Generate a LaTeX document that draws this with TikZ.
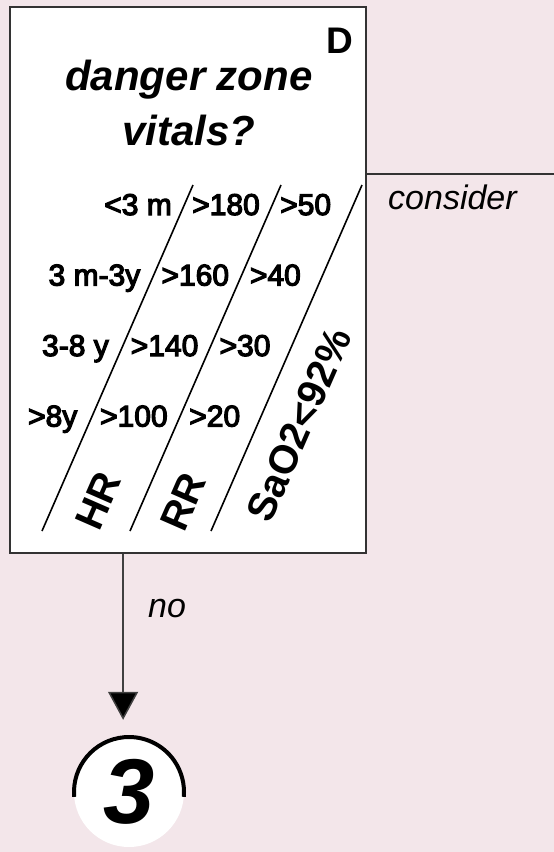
\documentclass[tikz,border=0pt]{standalone}
\usepackage{fontspec}
\setmainfont{Liberation Sans}
\newfontfamily\cellfont[FakeBold=4]{Liberation Sans}
\usetikzlibrary{positioning, arrows.meta, calc}
\definecolor{bgpink}{HTML}{F3E6EA}

\begin{document}
\begin{tikzpicture}[
                x=1pt, y=-1pt,
                box/.style={draw=black!80, line width=1.8pt, fill=white, minimum width=356pt, minimum height=546pt, inner sep=0pt},
                title/.style={font=\fontsize{42}{55}\selectfont\bfseries\itshape, align=center, inner sep=0pt},
                corner/.style={font=\fontsize{37}{37}\selectfont\bfseries, inner sep=0pt},
                cell/.style={font=\fontsize{30}{30}\cellfont, inner sep=0pt},
                vital/.style={font=\fontsize{40}{40}\selectfont\bfseries, rotate=66.4, inner sep=0pt},
                lbl/.style={font=\fontsize{34}{34}\selectfont\itshape, inner sep=0pt},
                div/.style={line width=1.6pt},
                arr/.style={-{Triangle[length=28pt, width=30pt, fill=black]}, line width=1.5pt, draw=black!75},
                exit/.style={circle, fill=white, minimum size=110pt, inner sep=0pt, font=\fontsize{92}{92}\selectfont\bfseries\itshape},
            ]

            % Background:
            \fill[bgpink] (0,0) rectangle (554,852);
            \useasboundingbox (0,0) rectangle (554,852);

            % Main box with question:
            \node[box] (vit) at (188,280) {};
            \node[corner, anchor=base] (dlab) at (340,53) {D};
            \node[title, anchor=base] (ttl) at (189,145) {danger zone\\vitals?};

            % Age rows with HR and RR limits:
            \foreach \age/\hr/\rr [count=\i from 0] in {{<3 m}/{>180}/{>50}, {3 m-3y}/{>160}/{>40}, {3-8 y}/{>140}/{>30}, {>8y}/{>100}/{>20}} {
                \node[cell, anchor=base east] (age\i) at (172-31.5*\i, 215+70.5*\i) {\age};
                \node[cell, anchor=base west] (hr\i)  at (192-30.7*\i, 215+70.5*\i) {\hr};
                \node[cell, anchor=base west] (rr\i)  at (280-30.3*\i, 215+70.5*\i) {\rr};
            }

            % Slanted dividers and column heads:
            \foreach \xb in {42,130,211}
                \draw[div] (\xb,531) -- ++(151,-346);
            \node[vital] (hrh) at (98,501) {HR};
            \node[vital] (rrh) at (183,502) {RR};
            \node[vital] (sat) at (299,425) {SaO2<92\%};

            % Branch to the right:
            \coordinate (rt) at (554,174);
            \draw[line width=1.5pt, draw=black!80] (vit.east |- rt) -- (rt);
            \node[lbl, anchor=base west] (cons) at (388,209) {consider};

            % Exit to step 3:
            \node[exit] (three) at (129,792) {3};
            \draw[line width=4pt] ([shift={(185:55pt)}]three.center) arc[start angle=185, end angle=-5, radius=55pt];
            \coordinate (out) at ($(vit.south west)+(114,0)$);
            \draw[arr, shorten >=17pt] (out) -- (out |- three.north);
            \node[lbl, anchor=base west] (no) at (148,617) {no};
        \end{tikzpicture}
\end{document}
